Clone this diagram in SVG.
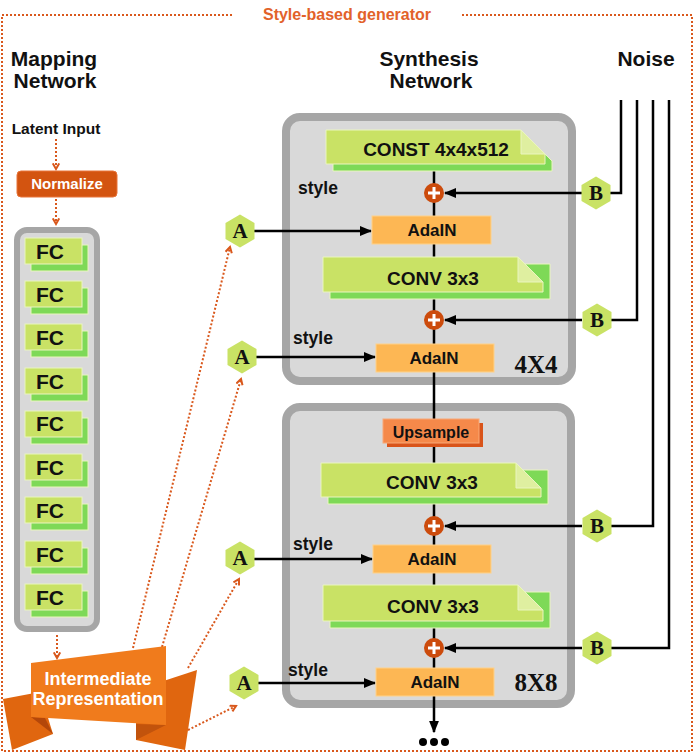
<svg xmlns="http://www.w3.org/2000/svg" xmlns:xlink="http://www.w3.org/1999/xlink" width="694" height="753" viewBox="0 0 694 753">
<style>
.t{font-family:"Liberation Sans",Arial,sans-serif;font-weight:bold;fill:#111}
.hdr{font-size:21px;text-anchor:middle}
.fc{font-size:21px;text-anchor:middle}
.lbl{font-size:19px;text-anchor:middle}
.ada{font-size:17px;text-anchor:middle}
.sty{font-size:17.5px}
.ser{font-family:"Liberation Serif","Times New Roman",serif;fill:#111}
.hexl{font-size:21px;font-weight:bold;text-anchor:middle}
.blk{fill:#d9d9d9;stroke:#a6a6a6;stroke-width:8}
.front{fill:#c9e265;stroke:#eaf5c0;stroke-width:1}
.back{fill:#7ed957;stroke:#eaf5c0;stroke-width:1}
.fold{fill:#dfefa0;stroke:#eaf5c0;stroke-width:1}
.adain{fill:#fdb754;stroke:#ffd28a;stroke-width:1}
.hex{fill:#c9e265}
.blackline{stroke:#000;stroke-width:2.5;fill:none}
.dot{stroke:#d9581c;stroke-width:2;stroke-dasharray:2 2;fill:none}
.plus{fill:#cc4b0c}
.plusx{stroke:#fff;stroke-width:3}
</style>
<defs>
<marker id="ah" viewBox="0 0 10 10" refX="9" refY="5" markerWidth="5" markerHeight="5" orient="auto" markerUnits="strokeWidth">
<path d="M0,1 L10,5 L0,9 z" fill="#000"/>
</marker>
<marker id="oh" viewBox="0 0 10 10" refX="8" refY="5" markerWidth="4" markerHeight="4" orient="auto" markerUnits="strokeWidth">
<path d="M1,1 L8,5 L1,9" fill="none" stroke="#d9581c" stroke-width="2.5"/>
</marker>
<polygon id="hx" class="hex" points="0,-16.5 14.5,-8 14.5,8 0,16.5 -14.5,8 -14.5,-8"/>
</defs>

<!-- outer dotted frame -->
<g id="frame">
<path class="dot" d="M232,15 H2 V751 H692 V15 H462"/>
<text class="t" x="347" y="20" font-size="16" text-anchor="middle" style="fill:#e2622a">Style-based generator</text>
</g>

<!-- headers -->
<g id="headers">
<text class="t hdr" x="54" y="66">Mapping</text>
<text class="t hdr" x="55" y="88">Network</text>
<text class="t hdr" x="429" y="66">Synthesis</text>
<text class="t hdr" x="431" y="88">Network</text>
<text class="t hdr" x="646" y="66">Noise</text>
</g>

<!-- synthesis blocks (backgrounds) -->
<g id="block4x4">
<rect class="blk" x="286" y="117" width="286" height="264" rx="14"/>
<text class="ser" x="536" y="373" font-size="25" font-weight="bold" text-anchor="middle">4X4</text>
</g>
<g id="block8x8">
<rect class="blk" x="286" y="407" width="285" height="297" rx="14"/>
<text class="ser" x="536" y="691" font-size="25" font-weight="bold" text-anchor="middle">8X8</text>
</g>

<!-- connectors -->
<g id="connectors">
<path class="dot" d="M56,139 V169" marker-end="url(#oh)"/>
<path class="dot" d="M56,199 V224" marker-end="url(#oh)"/>
<path class="dot" d="M57,635 V658" marker-end="url(#oh)"/>
<path class="dot" d="M133,648 L230,247" marker-end="url(#oh)"/>
<path class="dot" d="M162,647 L241,379" marker-end="url(#oh)"/>
<path class="dot" d="M188,668 L239,579" marker-end="url(#oh)"/>
<path class="dot" d="M188,730 L236,706" marker-end="url(#oh)"/>

<path class="blackline" d="M434,164 V732" marker-end="url(#ah)"/>

<path class="blackline" d="M621,100 V193 H610"/>
<path class="blackline" d="M637,100 V320 H611"/>
<path class="blackline" d="M653,100 V526 H611"/>
<path class="blackline" d="M669,100 V648 H611"/>

<path class="blackline" d="M582,193 H445" marker-end="url(#ah)"/>
<path class="blackline" d="M582,320 H445" marker-end="url(#ah)"/>
<path class="blackline" d="M582,526 H445" marker-end="url(#ah)"/>
<path class="blackline" d="M582,648 H445" marker-end="url(#ah)"/>

<path class="blackline" d="M254,231 H371" marker-end="url(#ah)"/>
<path class="blackline" d="M256,357 H375" marker-end="url(#ah)"/>
<path class="blackline" d="M254,559 H372" marker-end="url(#ah)"/>
<path class="blackline" d="M258,683 H375" marker-end="url(#ah)"/>
</g>

<!-- mapping network -->
<g id="latent-input"><text class="t" x="56" y="134" font-size="15.5" text-anchor="middle">Latent Input</text></g>
<g id="normalize">
<rect x="17" y="171" width="100" height="26" rx="4" fill="#d35410" stroke="#e8743a" stroke-width="1"/>
<text class="t" x="67" y="189" font-size="15" text-anchor="middle" style="fill:#fff">Normalize</text>
</g>
<g id="fc-panel">
<rect x="17" y="230" width="80" height="399" rx="10" fill="#d9d9d9" stroke="#a6a6a6" stroke-width="6"/>
</g>
<g id="fc1"><rect class="back" x="31" y="245" width="57" height="26"/><rect class="front" x="25" y="238" width="57" height="26"/><text class="t fc" x="50" y="259">FC</text></g>
<g id="fc2"><rect class="back" x="31" y="288" width="57" height="26"/><rect class="front" x="25" y="281" width="57" height="26"/><text class="t fc" x="50" y="302">FC</text></g>
<g id="fc3"><rect class="back" x="31" y="331" width="57" height="26"/><rect class="front" x="25" y="324" width="57" height="26"/><text class="t fc" x="50" y="345">FC</text></g>
<g id="fc4"><rect class="back" x="31" y="375" width="57" height="26"/><rect class="front" x="25" y="368" width="57" height="26"/><text class="t fc" x="50" y="389">FC</text></g>
<g id="fc5"><rect class="back" x="31" y="418" width="57" height="26"/><rect class="front" x="25" y="411" width="57" height="26"/><text class="t fc" x="50" y="431">FC</text></g>
<g id="fc6"><rect class="back" x="31" y="461" width="57" height="26"/><rect class="front" x="25" y="454" width="57" height="26"/><text class="t fc" x="50" y="475">FC</text></g>
<g id="fc7"><rect class="back" x="31" y="504" width="57" height="26"/><rect class="front" x="25" y="497" width="57" height="26"/><text class="t fc" x="50" y="518">FC</text></g>
<g id="fc8"><rect class="back" x="31" y="548" width="57" height="26"/><rect class="front" x="25" y="541" width="57" height="26"/><text class="t fc" x="50" y="562">FC</text></g>
<g id="fc9"><rect class="back" x="31" y="591" width="57" height="26"/><rect class="front" x="25" y="584" width="57" height="26"/><text class="t fc" x="50" y="605">FC</text></g>

<!-- intermediate representation banner -->
<g id="intermediate">
<polygon points="3,699 40,692 53,734 12,750" fill="#e0660f"/>
<polygon points="31,717 45,718 53,734" fill="#b4470a"/>
<polygon points="136,690 197,670 185,750 136,740" fill="#e0660f"/>
<polygon points="136,724 166,725 136,740" fill="#c2530c"/>
<polygon points="31,663 166,646 166,725 31,717" fill="#f07b1c"/>
<text class="t" x="98" y="685" font-size="18" text-anchor="middle" style="fill:#fff">Intermediate</text>
<text class="t" x="98" y="705" font-size="18" text-anchor="middle" style="fill:#fff">Representation</text>
</g>

<!-- A hexagons -->
<g id="A1"><use xlink:href="#hx" x="240" y="231"/><text class="ser hexl" x="240" y="238">A</text></g>
<g id="A2"><use xlink:href="#hx" x="242" y="357"/><text class="ser hexl" x="242" y="364">A</text></g>
<g id="A3"><use xlink:href="#hx" x="240" y="558"/><text class="ser hexl" x="240" y="565">A</text></g>
<g id="A4"><use xlink:href="#hx" x="244" y="683"/><text class="ser hexl" x="244" y="690">A</text></g>

<!-- B hexagons -->
<g id="B1"><use xlink:href="#hx" x="596" y="193"/><text class="ser hexl" x="596" y="200">B</text></g>
<g id="B2"><use xlink:href="#hx" x="597" y="320"/><text class="ser hexl" x="597" y="327">B</text></g>
<g id="B3"><use xlink:href="#hx" x="597" y="526"/><text class="ser hexl" x="597" y="533">B</text></g>
<g id="B4"><use xlink:href="#hx" x="597" y="648"/><text class="ser hexl" x="597" y="655">B</text></g>

<!-- synthesis nodes -->
<g id="const">
<polygon class="back" points="333,137 528,137 552,161 552,171 333,171"/>
<polygon class="front" points="326,130 521,130 545,154 545,164 326,164"/>
<polygon class="fold" points="521,130 521,154 545,154"/>
<text class="t lbl" x="436" y="156">CONST 4x4x512</text>
</g>
<g id="plus1"><circle class="plus" cx="434" cy="193" r="10"/><path class="plusx" d="M428,193 H440 M434,187 V199"/></g>
<g id="style1"><text class="t sty" x="298" y="194">style</text></g>
<g id="adain1"><rect class="adain" x="372" y="216" width="119" height="28"/><text class="t ada" x="432" y="236">AdaIN</text></g>
<g id="conv1">
<polygon class="back" points="330,264 550,264 550,299 330,299"/>
<polygon class="front" points="323,257 518,257 543,282 543,292 323,292"/>
<polygon class="fold" points="518,257 518,282 543,282"/>
<text class="t lbl" x="433" y="285">CONV 3x3</text>
</g>
<g id="plus2"><circle class="plus" cx="434" cy="320" r="10"/><path class="plusx" d="M428,320 H440 M434,314 V326"/></g>
<g id="style2"><text class="t sty" x="293" y="344">style</text></g>
<g id="adain2"><rect class="adain" x="376" y="344" width="118" height="28"/><text class="t ada" x="434" y="364">AdaIN</text></g>

<g id="upsample">
<rect x="387" y="423" width="96" height="24" fill="#d9541a"/>
<rect x="383" y="419" width="96" height="24" fill="#f5894a" stroke="#f9a877" stroke-width="1"/>
<text class="t" x="431" y="438" font-size="16" text-anchor="middle">Upsample</text>
</g>
<g id="conv2">
<polygon class="back" points="328,470 548,470 548,504 328,504"/>
<polygon class="front" points="321,463 516,463 541,488 541,497 321,497"/>
<polygon class="fold" points="516,463 516,488 541,488"/>
<text class="t lbl" x="432" y="489">CONV 3x3</text>
</g>
<g id="plus3"><circle class="plus" cx="434" cy="526" r="10"/><path class="plusx" d="M428,526 H440 M434,520 V532"/></g>
<g id="style3"><text class="t sty" x="293" y="550">style</text></g>
<g id="adain3"><rect class="adain" x="373" y="545" width="118" height="28"/><text class="t ada" x="432" y="565">AdaIN</text></g>
<g id="conv3">
<polygon class="back" points="330,592 550,592 550,628 330,628"/>
<polygon class="front" points="323,585 518,585 543,610 543,621 323,621"/>
<polygon class="fold" points="518,585 518,610 543,610"/>
<text class="t lbl" x="433" y="613">CONV 3x3</text>
</g>
<g id="plus4"><circle class="plus" cx="434" cy="648" r="10"/><path class="plusx" d="M428,648 H440 M434,642 V654"/></g>
<g id="style4"><text class="t sty" x="288" y="676">style</text></g>
<g id="adain4"><rect class="adain" x="376" y="668" width="118" height="28"/><text class="t ada" x="435" y="688">AdaIN</text></g>
<g id="more"><circle cx="423" cy="742" r="4" fill="#000"/><circle cx="434" cy="742" r="4" fill="#000"/><circle cx="445" cy="742" r="4" fill="#000"/></g>
</svg>
